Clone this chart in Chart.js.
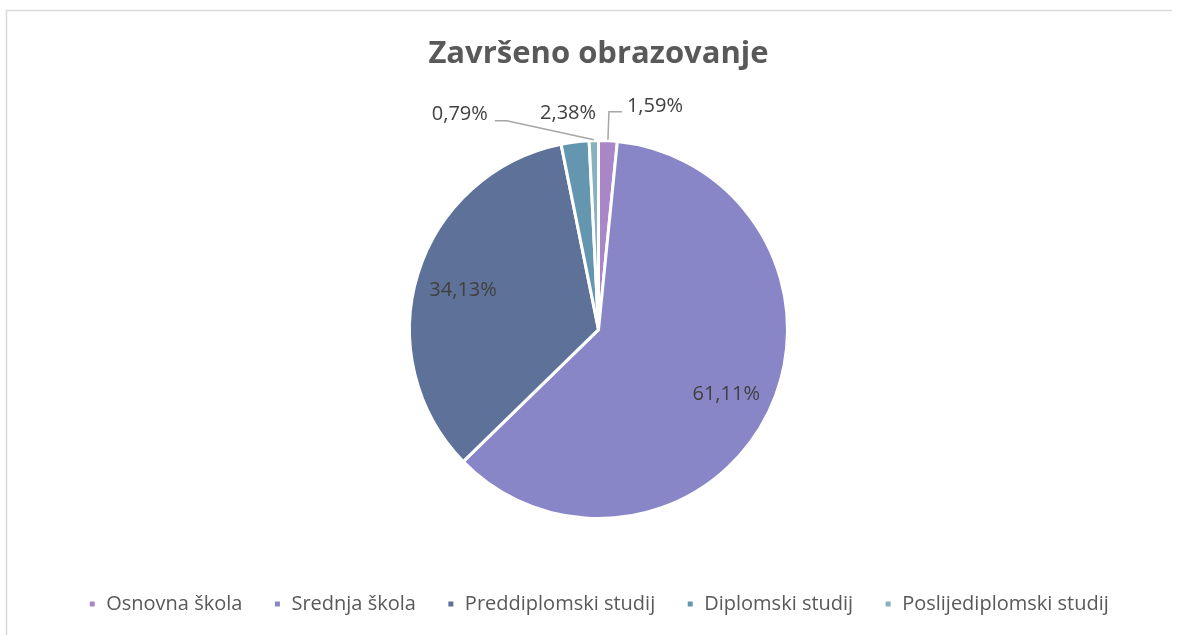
<!DOCTYPE html>
<html>
<head>
<meta charset="utf-8">
<script src="https://cdn.jsdelivr.net/npm/chart.js@4/dist/chart.umd.min.js"></script>
<style>
  html, body { margin: 0; padding: 0; background: #ffffff; }
  #wrap { width: 1181px; height: 635px; position: relative; }
</style>
</head>
<body>
<div id="wrap"><canvas id="c" width="1181" height="635"></canvas></div>
<script>
const titleText = 'Završeno obrazovanje';
const categories = ['Osnovna škola', 'Srednja škola', 'Preddiplomski studij', 'Diplomski studij', 'Poslijediplomski studij'];
const percentages = [1.59, 61.11, 34.13, 2.38, 0.79];
const sliceColors = ['#A886C8', '#8986C8', '#5E7299', '#6596B0', '#86B3BF'];

// label placement styles for the small slices (offsets relative to outer mid-point of each arc)
const smallLabelStyles = {
  0: { line: [[1, -29], [14, -29]], text: [19, -35], align: 'left' },
  3: { line: null, text: [-7, -29], align: 'center' },
  4: { line: [[-87, -20], [-99, -20]], text: [-106, -26], align: 'right' }
};

const fmt = v => v.toFixed(2).replace('.', ',') + '%';

const framePlugin = {
  id: 'frame',
  beforeDraw(chart) {
    const ctx = chart.ctx;
    ctx.save();
    ctx.fillStyle = '#ffffff';
    ctx.fillRect(0, 0, chart.width, chart.height);
    ctx.strokeStyle = '#d9d9d9';
    ctx.lineWidth = 1.5;
    ctx.beginPath();
    ctx.moveTo(6.5, chart.height);
    ctx.lineTo(6.5, 10.5);
    ctx.lineTo(1172, 10.5);
    ctx.stroke();
    ctx.restore();
  }
};

const labelPlugin = {
  id: 'pieLabels',
  afterDatasetsDraw(chart) {
    const ctx = chart.ctx;
    const meta = chart.getDatasetMeta(0);
    ctx.save();
    ctx.font = '20px "Open Sans"';
    ctx.fillStyle = '#404040';
    ctx.textBaseline = 'middle';
    meta.data.forEach((arc, i) => {
      const p = arc.getProps(['x', 'y', 'startAngle', 'endAngle', 'outerRadius'], true);
      const mid = (p.startAngle + p.endAngle) / 2;
      const txt = fmt(percentages[i]);
      const st = smallLabelStyles[i];
      if (!st) {
        const r = p.outerRadius * 0.75;
        ctx.textAlign = 'center';
        ctx.fillText(txt, p.x + Math.cos(mid) * r, p.y + Math.sin(mid) * r + 3);
        return;
      }
      const ox = p.x + Math.cos(mid) * p.outerRadius;
      const oy = p.y + Math.sin(mid) * p.outerRadius;
      if (st.line) {
        ctx.strokeStyle = '#a6a6a6';
        ctx.lineWidth = 1.5;
        ctx.beginPath();
        ctx.moveTo(ox, oy - 1);
        st.line.forEach(pt => ctx.lineTo(ox + pt[0], oy + pt[1]));
        ctx.stroke();
      }
      ctx.textAlign = st.align;
      ctx.fillText(txt, ox + st.text[0], oy + st.text[1]);
    });
    ctx.restore();
  }
};

new Chart(document.getElementById('c'), {
  type: 'pie',
  data: {
    labels: categories,
    datasets: [{
      data: percentages,
      backgroundColor: sliceColors,
      borderColor: '#ffffff',
      borderWidth: 3,
      radius: 189
    }]
  },
  options: {
    responsive: false,
    animation: false,
    layout: { padding: { top: 0, left: 16, right: 0, bottom: 11 } },
    plugins: {
      title: {
        display: true,
        text: titleText,
        color: '#595959',
        font: { family: '"Open Sans"', size: 31, weight: 'bold', lineHeight: 1.2 },
        padding: { top: 36, bottom: 23 }
      },
      legend: {
        position: 'bottom',
        labels: {
          color: '#595959',
          font: { family: '"Open Sans"', size: 20 },
          boxWidth: 8,
          boxHeight: 8,
          padding: 31
        }
      },
      tooltip: { enabled: false }
    }
  },
  plugins: [framePlugin, labelPlugin]
});
</script>
</body>
</html>
